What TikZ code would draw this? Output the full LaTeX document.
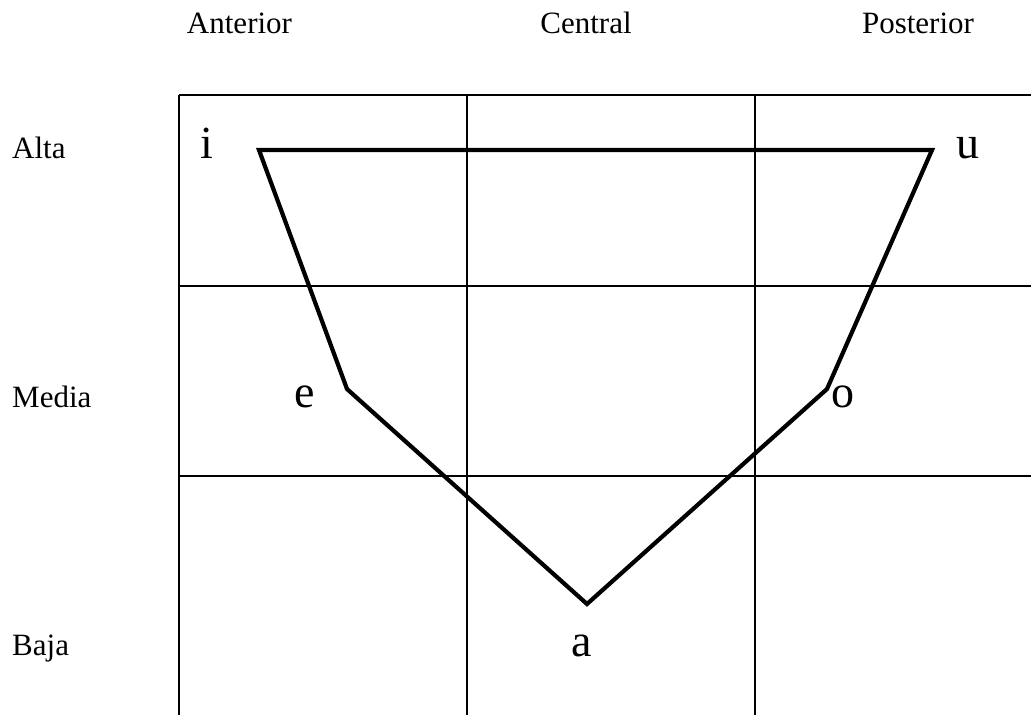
\documentclass[tikz,border=0pt]{standalone}
\usepackage{fontspec}
\setmainfont{Liberation Serif}
\usepackage{tkz-euclide}
\tikzset{
  collbl/.style={anchor=base,inner sep=0pt,font=\fontsize{31}{36}\selectfont},
  rowlbl/.style={anchor=base west,inner sep=0pt,font=\fontsize{31}{36}\selectfont},
  vowel/.style={anchor=base west,inner sep=0pt,font=\fontsize{46}{52}\selectfont},
  gridline/.style={line width=1.8pt,color=black},
  trapline/.style={line width=4.2pt,color=black,line join=miter}
}

\begin{document}
\begin{tikzpicture}[x=1pt,y=-1pt]
\useasboundingbox (0,0) rectangle (1031,715);

% grid
\tkzDefPoints{179/95/TL,467/95/TA,755/95/TB,1031/95/TR,179/715/BL,467/715/BA,755/715/BB}
\tkzDefPoints{179/286/ML,1031/286/MR,179/476/LL,1031/476/LR}
\draw[gridline] (TL) -- (TR) (TL) -- (BL) (TA) -- (BA) (TB) -- (BB)
  (ML) -- (MR) (LL) -- (LR);

% vowel trapezium
\tkzDefPoints{259/150/I,932/150/U,827/389/O,587/604/A,347/389/E}
\draw[trapline] (I) -- (U) -- (O) -- (A) -- (E) -- cycle;

\node[collbl] (ant) at (239.5,33) {Anterior};
\node[collbl] (cen) at (586,33) {Central};
\node[collbl] (pos) at (918,33) {Posterior};

\node[rowlbl] (alta) at (12,158) {Alta};
\node[rowlbl] (media) at (12,407) {Media};
\node[rowlbl] (baja) at (12,655) {Baja};

\node[vowel] (li) at (200,158) {i};
\node[vowel] (lu) at (956,158) {u};
\node[vowel] (le) at (294,407) {e};
\node[vowel] (lo) at (831,407) {o};
\node[vowel,anchor=base] (la) at (582,656) {a};

\end{tikzpicture}
\end{document}
